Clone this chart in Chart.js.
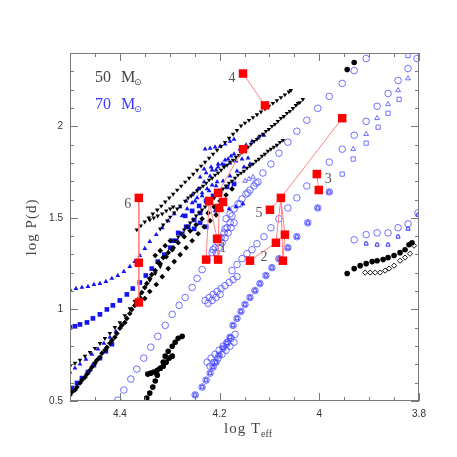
<!DOCTYPE html>
<html>
<head>
<meta charset="utf-8">
<script src="https://cdn.jsdelivr.net/npm/chart.js@4.4.1/dist/chart.umd.min.js"></script>
<style>
  html, body { margin: 0; padding: 0; background: #fff; }
  #hrChart { display: block; width: 457px; height: 457px; }
</style>
</head>
<body>
<canvas id="hrChart" width="457" height="457"></canvas>
<script>
// TICK LABELS
const xTickLabels = [4.4, 4.2, 4, 3.8];
const yTickLabels = [0.5, 1, 1.5, 2];

// 50 Msun (black) - filled triangles
const triA_x = [4.366,4.358,4.350,4.342,4.334,4.325,4.317,4.309,4.301,4.293,4.285,4.277,4.269,4.261,4.253,4.245,4.237,4.229,4.221,4.213,4.205,4.197,4.189,4.181,4.173,4.165,4.157,4.149,4.141,4.133,4.125,4.117,4.109,4.101,4.093,4.085,4.077,4.069,4.061,4.057];
const triA_y = [1.435,1.457,1.478,1.500,1.522,1.544,1.565,1.587,1.609,1.630,1.652,1.674,1.696,1.717,1.739,1.761,1.783,1.804,1.826,1.848,1.870,1.891,1.913,1.935,1.957,1.978,2.002,2.018,2.033,2.048,2.064,2.079,2.095,2.110,2.126,2.141,2.157,2.172,2.188,2.196];
const triB_x = [4.340,4.332,4.324,4.315,4.307,4.299,4.293];
const triB_y = [1.489,1.500,1.511,1.522,1.538,1.549,1.560];
const triC_x = [4.319,4.305,4.291,4.279,4.269,4.257,4.245,4.233,4.221,4.209,4.197,4.185,4.173,4.161,4.149,4.137,4.125,4.113,4.101,4.089,4.077,4.065,4.053,4.043,4.033];
const triC_y = [1.440,1.484,1.527,1.565,1.592,1.620,1.647,1.674,1.707,1.734,1.761,1.788,1.815,1.842,1.870,1.902,1.929,1.957,1.984,2.011,2.044,2.071,2.098,2.125,2.147];
const triC2_x = [4.313,4.299,4.285,4.263,4.251,4.239,4.227,4.215,4.203,4.191,4.179,4.167,4.155,4.143,4.131,4.119,4.107,4.095,4.083,4.071,4.059,4.047,4.039];
const triC2_y = [1.462,1.505,1.549,1.609,1.636,1.663,1.690,1.717,1.745,1.777,1.804,1.832,1.859,1.886,1.918,1.946,1.973,2.000,2.027,2.054,2.082,2.114,2.130];
const triD_x = [4.289,4.277,4.265,4.253,4.241,4.229,4.217,4.205,4.193,4.181,4.169,4.157,4.145,4.133,4.121,4.109,4.097,4.085,4.073];
const triD_y = [1.375,1.413,1.451,1.489,1.527,1.560,1.592,1.625,1.658,1.690,1.717,1.745,1.772,1.794,1.821,1.848,1.875,1.897,1.924];
const triD2_x = [4.283,4.271,4.259,4.247,4.235,4.223,4.211,4.199,4.187,4.175,4.163,4.151,4.139,4.127,4.115,4.103,4.091,4.079];
const triD2_y = [1.397,1.435,1.473,1.511,1.544,1.576,1.609,1.641,1.674,1.701,1.734,1.755,1.783,1.810,1.837,1.864,1.886,1.913];
const triE_x = [4.500,4.490,4.480,4.470,4.460,4.450,4.440,4.430,4.420,4.410,4.400,4.390,4.380,4.370,4.360,4.350,4.340,4.329,4.319];
const triE_y = [0.690,0.707,0.723,0.745,0.766,0.788,0.815,0.842,0.870,0.902,0.929,0.967,1.005,1.044,1.082,1.120,1.158,1.196,1.234];

// 50 Msun - filled diamonds
const dmA_x = [4.500,4.490,4.480,4.470,4.460,4.450,4.440,4.430,4.420,4.410,4.400,4.390,4.380,4.370,4.360,4.350,4.340,4.329,4.319,4.307,4.295,4.283,4.271,4.259,4.247,4.235,4.223,4.211,4.199,4.187,4.175];
const dmA_y = [0.533,0.560,0.598,0.630,0.668,0.707,0.739,0.777,0.815,0.848,0.897,0.929,0.978,1.022,1.065,1.120,1.169,1.212,1.250,1.288,1.326,1.364,1.397,1.429,1.462,1.495,1.527,1.560,1.592,1.625,1.658];
const dmA2_x = [4.496,4.486,4.476,4.466,4.456,4.446,4.436,4.426,4.416,4.406,4.396,4.386,4.376,4.366,4.356,4.346,4.336];
const dmA2_y = [0.549,0.576,0.614,0.647,0.685,0.723,0.761,0.793,0.831,0.869,0.913,0.951,1.000,1.044,1.092,1.141,1.190];
const dmB_x = [4.350,4.340,4.327,4.315,4.303,4.291,4.279,4.267,4.255,4.243,4.231,4.219,4.207];
const dmB_y = [1.060,1.098,1.136,1.179,1.223,1.261,1.299,1.337,1.375,1.413,1.451,1.484,1.516];
const dmC_x = [4.329,4.319,4.309,4.299,4.323,4.313,4.303,4.293];
const dmC_y = [1.294,1.321,1.348,1.375,1.255,1.283,1.310,1.337];

// 50 Msun - filled circles
const bcA_x = [4.346,4.340,4.334,4.329,4.325,4.319,4.313,4.309,4.303,4.295,4.289,4.283,4.275];
const bcA_y = [0.516,0.543,0.576,0.609,0.641,0.679,0.712,0.745,0.772,0.799,0.821,0.842,0.853];
const bcB_x = [4.344,4.338,4.332,4.325,4.319,4.313,4.307,4.301,4.295];
const bcB_y = [0.647,0.652,0.658,0.668,0.679,0.690,0.712,0.734,0.745];
const bcTop_x = [3.944,3.930];
const bcTop_y = [2.310,2.348];
const bcRt_x = [3.944,3.930,3.918,3.906,3.894,3.884,3.872,3.862,3.850,3.838,3.828,3.820,3.814];
const bcRt_y = [1.196,1.223,1.239,1.250,1.261,1.266,1.272,1.283,1.294,1.310,1.326,1.353,1.364];
// 50 Msun - open diamonds
const bdRt_x = [3.908,3.898,3.888,3.878,3.868,3.860,3.850,3.838,3.828,3.818,3.810];
const bdRt_y = [1.201,1.201,1.201,1.201,1.212,1.223,1.239,1.266,1.283,1.304,1.348];

// 70 Msun (blue) - filled triangles
const btA_x = [4.500,4.488,4.476,4.464,4.452,4.440,4.428,4.416,4.404,4.392,4.380,4.370,4.360,4.350,4.340,4.327,4.315,4.303,4.291,4.279,4.267,4.255,4.243,4.231,4.219,4.207,4.195,4.183,4.171,4.159,4.147,4.135,4.123,4.111];
const btA_y = [1.109,1.114,1.120,1.125,1.136,1.141,1.152,1.169,1.185,1.207,1.234,1.261,1.294,1.332,1.370,1.408,1.446,1.484,1.522,1.560,1.592,1.625,1.658,1.696,1.728,1.761,1.794,1.821,1.848,1.875,1.897,1.918,1.935,1.951];
const btB_x = [4.229,4.219,4.209,4.199,4.189,4.179,4.171];
const btB_y = [1.875,1.880,1.886,1.891,1.902,1.918,1.929];
const btC_x = [4.231,4.217,4.203,4.189,4.177];
const btC_y = [1.766,1.777,1.794,1.815,1.837];
const btD_x = [4.249,4.235,4.221,4.207,4.193,4.179,4.165,4.151,4.139];
const btD_y = [1.592,1.620,1.647,1.674,1.701,1.728,1.755,1.777,1.794];
const btE_x = [4.209,4.195,4.181,4.167,4.153];
const btE_y = [1.538,1.543,1.549,1.560,1.576];
const btF_x = [4.500,4.490,4.480,4.468,4.456,4.444,4.432,4.420,4.408];
const btF_y = [0.658,0.679,0.701,0.728,0.755,0.783,0.815,0.848,0.880];
const btG_x = [4.239,4.227,4.215,4.203,4.191,4.179,4.167,4.155,4.143];
const btG_y = [1.723,1.745,1.761,1.777,1.788,1.799,1.810,1.821,1.826];
const btH_x = [4.275,4.265,4.255,4.245,4.235,4.225,4.215,4.205];
const btH_y = [1.511,1.549,1.582,1.609,1.636,1.658,1.679,1.696];

// 70 Msun - filled squares
const bsA_x = [4.500,4.490,4.480,4.466,4.454,4.440,4.426,4.414,4.400,4.386,4.374,4.360,4.348,4.336,4.324,4.311,4.299,4.287,4.275,4.263,4.251,4.239];
const bsA_y = [0.902,0.908,0.918,0.929,0.951,0.973,1.000,1.022,1.049,1.082,1.114,1.147,1.185,1.223,1.261,1.299,1.337,1.375,1.413,1.451,1.489,1.527];
const bsB_x = [4.496,4.486,4.476,4.464,4.452,4.440,4.428,4.416];
const bsB_y = [0.571,0.598,0.625,0.658,0.696,0.734,0.772,0.810];
const bsC_x = [4.269,4.255,4.241,4.227,4.213,4.199,4.185,4.171];
const bsC_y = [1.511,1.538,1.565,1.592,1.620,1.647,1.669,1.685];
const bsD_x = [4.295,4.283,4.267,4.251,4.239,4.227];
const bsD_y = [1.375,1.418,1.451,1.440,1.473,1.451];

// 70 Msun - open circles
const ocA_x = [4.404,4.392,4.378,4.366,4.352,4.338,4.324,4.309,4.295,4.281,4.269,4.255,4.245,4.235,4.225,4.213,4.201,4.189,4.175,4.159,4.143,4.127,4.113,4.097,4.081,4.063,4.045,4.025,4.003,3.980,3.954,3.930,3.906];
const ocA_y = [0.505,0.560,0.620,0.674,0.734,0.794,0.853,0.913,0.973,1.022,1.065,1.120,1.169,1.217,1.272,1.326,1.386,1.440,1.511,1.576,1.636,1.690,1.745,1.794,1.853,1.913,1.973,2.033,2.098,2.163,2.234,2.304,2.370];
const ocB_x = [4.187,4.179,4.171,4.163,4.155,4.147,4.139,4.131,4.123];
const ocB_y = [1.495,1.522,1.549,1.576,1.603,1.630,1.652,1.674,1.696];
const ocC_x = [4.215,4.209,4.203,4.197,4.191,4.185,4.179,4.207,4.201,4.195,4.189,4.183,4.177,4.171];
const ocC_y = [1.310,1.337,1.364,1.391,1.418,1.446,1.473,1.310,1.337,1.364,1.391,1.418,1.446,1.473];
const ocD_x = [4.229,4.221,4.213,4.205,4.197,4.189,4.181,4.173,4.165,4.223,4.215,4.207,4.199];
const ocD_y = [1.049,1.065,1.082,1.098,1.114,1.130,1.147,1.163,1.179,1.033,1.049,1.065,1.082];
const ocE_x = [4.225,4.217,4.209,4.201,4.193,4.185,4.177,4.169,4.219,4.211,4.203,4.195,4.187,4.179,4.171];
const ocE_y = [0.712,0.734,0.755,0.777,0.799,0.821,0.842,0.864,0.690,0.712,0.734,0.755,0.777,0.799,0.821];
const ocF_x = [4.175,4.165,4.155,4.145,4.135,4.125,4.111,4.097,4.081,4.063,4.045,4.025,4.003,3.980,3.954,3.930,3.906,3.884,3.862,3.842,3.822,3.804];
const ocF_y = [1.212,1.245,1.277,1.304,1.326,1.359,1.397,1.446,1.495,1.554,1.609,1.674,1.739,1.804,1.875,1.951,2.027,2.109,2.179,2.250,2.315,2.370];
const ocG_x = [4.249,4.235,4.227,4.219,4.213,4.207,4.201,4.193,4.185,4.179,4.173,4.165,4.157,4.149,4.139,4.129,4.119,4.107,4.095,4.081,4.063,4.045,4.023,4.003,3.980];
const ocG_y = [0.533,0.576,0.614,0.652,0.685,0.712,0.750,0.788,0.815,0.848,0.913,0.951,0.989,1.027,1.065,1.103,1.141,1.185,1.228,1.277,1.337,1.397,1.473,1.554,1.641];
const ocH_x = [3.930,3.906,3.884,3.862,3.842,3.822,3.802];
const ocH_y = [1.380,1.408,1.418,1.418,1.446,1.467,1.527];
// 70 Msun - open triangles / squares
const otA_x = [3.932,3.906,3.884,3.862,3.842,3.822];
const otA_y = [1.875,1.957,2.044,2.120,2.196,2.261];
const otB_x = [3.906,3.884,3.862,3.842,3.822,3.802];
const otB_y = [1.359,1.353,1.353,1.397,1.440,1.516];
const otC_x = [4.149,4.141,4.133];
const otC_y = [1.701,1.712,1.723];
const osA_x = [3.954,3.932,3.906,3.882,3.862,3.840,3.822];
const osA_y = [1.739,1.821,1.908,1.995,2.071,2.147,2.386];

// OBSERVED SYSTEMS (red)
const redX = [4.153,4.109,3.954,4.077,4.099,4.069,4.087,4.073,4.139,4.005,4.001,4.362,4.362,4.362,4.153,4.221,4.203,4.193,4.201,4.205,4.227,4.203];
const redY = [2.288,2.114,2.044,1.609,1.544,1.408,1.364,1.266,1.266,1.739,1.652,1.609,1.255,1.038,1.875,1.592,1.636,1.587,1.554,1.386,1.272,1.272];
const redLinks = [[0,1],[2,3],[3,4],[8,6],[6,3],[3,7],[3,5],[5,7],[9,10],[11,12,13],[14,16],[15,20],[15,19],[18,21],[19,21]];
const sysNames = ["4", "5", "2", "3", "6", "1"];
const sysX = [4.175, 4.121, 4.111, 3.982, 4.384, 4.193];
const sysY = [2.26, 1.522, 1.285, 1.712, 1.576, 1.332];

function pts(xs, ys) {
  return xs.map((x, i) => ({ x: x, y: ys[i] }));
}

const BLUE = "#1414f0";
const LBLUE = "rgba(70,70,255,0.85)";

function filled(xs, ys, style, color, r, rot) {
  return { data: pts(xs, ys), pointStyle: style, pointRadius: r, rotation: rot || 0,
    backgroundColor: color, borderColor: color, borderWidth: 0, showLine: false };
}
function hollow(xs, ys, style, color, r) {
  return { data: pts(xs, ys), pointStyle: style, pointRadius: r,
    backgroundColor: "rgba(0,0,0,0)", borderColor: color, borderWidth: 0.9, showLine: false };
}

const datasets = [];
// red on top
datasets.push(filled(redX, redY, "rect", "#ff0000", 6));
redLinks.forEach((path) => {
  datasets.push({ data: path.map((i) => ({ x: redX[i], y: redY[i] })), showLine: true,
    pointRadius: 0, borderColor: "#ff8080", borderWidth: 1 });
});
// black 50 Msun
[[triA_x, triA_y], [triB_x, triB_y], [triC_x, triC_y], [triC2_x, triC2_y], [triD_x, triD_y], [triD2_x, triD2_y], [triE_x, triE_y]].forEach((s) => {
  datasets.push(filled(s[0], s[1], "triangle", "#000", 2.6, 180));
});
[[dmA_x, dmA_y], [dmA2_x, dmA2_y], [dmB_x, dmB_y], [dmC_x, dmC_y]].forEach((s) => {
  datasets.push(filled(s[0], s[1], "rectRot", "#000", 2.8));
});
[[bcA_x, bcA_y], [bcB_x, bcB_y], [bcTop_x, bcTop_y], [bcRt_x, bcRt_y]].forEach((s) => {
  datasets.push(filled(s[0], s[1], "circle", "#000", 2.8));
});
datasets.push(hollow(bdRt_x, bdRt_y, "rectRot", "#000", 2.6));
// blue 70 Msun filled
[[btA_x, btA_y], [btB_x, btB_y], [btC_x, btC_y], [btD_x, btD_y], [btE_x, btE_y], [btF_x, btF_y], [btG_x, btG_y], [btH_x, btH_y]].forEach((s) => {
  datasets.push(filled(s[0], s[1], "triangle", BLUE, 2.8));
});
[[bsA_x, bsA_y], [bsB_x, bsB_y], [bsC_x, bsC_y], [bsD_x, bsD_y]].forEach((s) => {
  datasets.push(filled(s[0], s[1], "rect", BLUE, 3.3));
});
// blue 70 Msun open
datasets.push(hollow(ocG_x, ocG_y, "rect", LBLUE, 2.6));
datasets.push(hollow(ocG_x, ocG_y, "triangle", LBLUE, 2.4));
datasets.push(hollow(otA_x, otA_y, "triangle", LBLUE, 2.8));
datasets.push(hollow(otB_x, otB_y, "triangle", LBLUE, 2.6));
datasets.push(hollow(otB_x, otB_y, "rect", LBLUE, 2.2));
datasets.push(hollow(otC_x, otC_y, "triangle", LBLUE, 2.6));
datasets.push(hollow(osA_x, osA_y, "rect", LBLUE, 3));
[[ocA_x, ocA_y], [ocB_x, ocB_y], [ocC_x, ocC_y], [ocD_x, ocD_y], [ocE_x, ocE_y], [ocF_x, ocF_y], [ocG_x, ocG_y], [ocH_x, ocH_y]].forEach((s) => {
  datasets.push(hollow(s[0], s[1], "circle", LBLUE, 3.3));
});

// FRAME, TICKS, TEXT
const framePlugin = {
  id: "frame",
  afterDraw(chart) {
    const { ctx, chartArea: a, scales } = chart;
    const xs = scales.x, ys = scales.y;
    ctx.save();
    ctx.strokeStyle = "#7a7a7a";
    ctx.lineWidth = 1;
    ctx.strokeRect(a.left + 0.5, a.top + 0.5, a.right - a.left - 1, a.bottom - a.top - 1);
    ctx.beginPath();
    for (let k = 0; k <= 14; k++) {
      const v = 3.8 + k * 0.05;
      const len = k % 4 === 0 ? 8 : 4;
      const px = Math.round(xs.getPixelForValue(v)) + 0.5;
      ctx.moveTo(px, a.bottom); ctx.lineTo(px, a.bottom - len);
      ctx.moveTo(px, a.top); ctx.lineTo(px, a.top + len);
    }
    for (let k = 0; k <= 19; k++) {
      const v = 0.5 + k * 0.1;
      const len = k % 5 === 0 ? 8 : 4;
      const py = Math.round(ys.getPixelForValue(v)) + 0.5;
      ctx.moveTo(a.left, py); ctx.lineTo(a.left + len, py);
      ctx.moveTo(a.right, py); ctx.lineTo(a.right - len, py);
    }
    ctx.stroke();

    // system numbers
    ctx.fillStyle = "#555";
    ctx.font = '14px "Liberation Serif"';
    ctx.textAlign = "center";
    ctx.textBaseline = "middle";
    sysNames.forEach((s, i) => {
      ctx.fillText(s, xs.getPixelForValue(sysX[i]), ys.getPixelForValue(sysY[i]));
    });

    // mass legend
    ctx.textAlign = "left";
    ctx.textBaseline = "alphabetic";
    [["50", "#444", 82], ["70", "#3a3aff", 109]].forEach((m) => {
      ctx.fillStyle = m[1];
      ctx.font = '16px "Liberation Serif"';
      ctx.fillText(m[0], 95, m[2]);
      ctx.fillText("M", 121, m[2]);
      ctx.font = '9px "DejaVu Sans"';
      ctx.fillText("\u2299", 134, m[2] + 3);
    });

    // axis titles
    ctx.fillStyle = "#444";
    ctx.font = '15px "Liberation Serif"';
    ctx.letterSpacing = "1px";
    ctx.fillText("log T", 224, 433);
    const w = ctx.measureText("log T").width;
    ctx.font = '10px "Liberation Serif"';
    ctx.letterSpacing = "0px";
    ctx.fillText("eff", 224 + w, 437);

    ctx.translate(36, 227);
    ctx.rotate(-Math.PI / 2);
    ctx.textAlign = "center";
    ctx.font = '15px "Liberation Serif"';
    ctx.letterSpacing = "1px";
    ctx.fillText("log P(d)", 0, 0);
    ctx.restore();
  },
};

new Chart(document.getElementById("hrChart"), {
  type: "scatter",
  data: { datasets: datasets },
  options: {
    responsive: false,
    animation: false,
    devicePixelRatio: 1,
    layout: { padding: { left: 0, right: 38, top: 53, bottom: 0 } },
    plugins: { legend: { display: false }, tooltip: { enabled: false } },
    scales: {
      x: {
        type: "linear", reverse: true, min: 3.8, max: 4.5,
        grid: { display: false, drawTicks: false }, border: { display: false },
        afterBuildTicks: (s) => { s.ticks = xTickLabels.map((v) => ({ value: v })); },
        afterFit: (s) => { s.height = 56; },
        ticks: { autoSkip: false, maxRotation: 0, padding: 7, color: "#333",
          font: { family: "Liberation Sans", size: 10 }, callback: (v) => String(v) },
      },
      y: {
        type: "linear", min: 0.5, max: 2.4,
        grid: { display: false, drawTicks: false }, border: { display: false },
        afterBuildTicks: (s) => { s.ticks = yTickLabels.map((v) => ({ value: v })); },
        afterFit: (s) => { s.width = 70; },
        ticks: { autoSkip: false, padding: 7, color: "#333",
          font: { family: "Liberation Sans", size: 10 }, callback: (v) => String(v) },
      },
    },
  },
  plugins: [framePlugin],
});
</script>
</body>
</html>
